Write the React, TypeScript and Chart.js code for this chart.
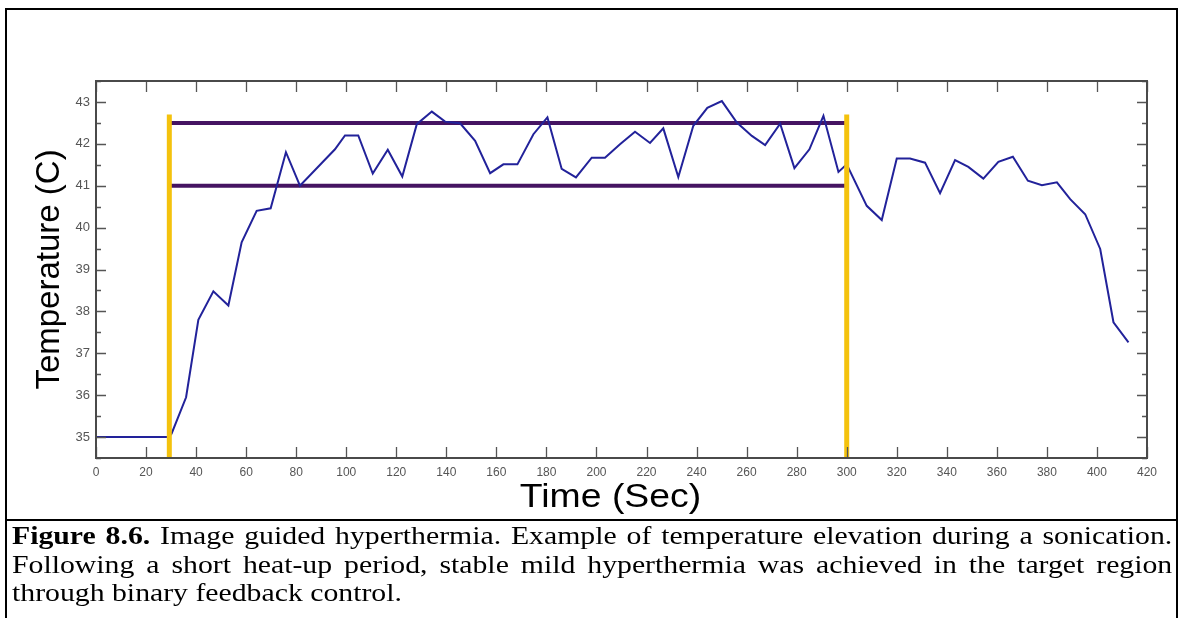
import React, { useEffect, useRef } from 'react';
import { Chart, registerables } from 'chart.js';

Chart.register(...registerables);

// ---- data ----
const timeSec = [
  0, 29, 30.2, 36, 40.9, 46.9, 52.9, 58.2, 64.2, 69.8, 75.9, 81.5, 95.5, 99.5,
  104.8, 110.6, 116.6, 122.4, 128.2, 134.2, 139.5, 145.5, 151.5, 157.5, 162.8,
  168.4, 174.8, 180.4, 186.1, 191.8, 198.1, 203.4, 209.4, 215.4, 221.4, 226.7,
  232.7, 238.7, 244.3, 250.1, 256.1, 262.1, 267.4, 273.4, 279.1, 285.1, 290.7,
  296.7, 300, 308, 314, 320, 325.3, 331.3, 337.3, 343.3, 348.6, 354.6, 360.6,
  366.4, 372.4, 378, 384, 389.3, 395.3, 401.3, 406.6, 412.6,
];
const tempC = [
  35, 35, 35.08, 35.95, 37.8, 38.48, 38.14, 39.65, 40.4, 40.46, 41.8, 41.0, 41.87, 42.2,
  42.2, 41.29, 41.86, 41.22, 42.47, 42.77, 42.53, 42.49, 42.07, 41.3, 41.51,
  41.51, 42.23, 42.63, 41.4, 41.2, 41.67, 41.67, 41.99, 42.29, 42.02, 42.37,
  41.21, 42.43, 42.86, 43.02, 42.51, 42.19, 41.97, 42.48, 41.42, 41.87, 42.67,
  41.33, 41.51, 40.52, 40.18, 41.65, 41.65, 41.55, 40.82, 41.61, 41.45, 41.17, 41.57,
  41.69, 41.12, 41.01, 41.08, 40.68, 40.32, 39.49, 37.74, 37.26,
];
const lowerLimit = 41;
const upperLimit = 42.5;
const heatingStart = 29.3;
const heatingEnd = 300;
const markerTop = 42.7;

const X_MIN = 0;
const X_MAX = 420;
const X_STEP = 20;
const Y_MIN = 34.5;
const Y_MAX = 43.5;
const Y_STEP = 0.5;

const xTitle = 'Time (Sec)';
const yTitle = 'Temperature (C)';

const captionBold = 'Figure 8.6.';
const captionLine1 = ' Image guided hyperthermia. Example of temperature elevation during a sonication.';
const captionLine2 = 'Following a short heat-up period, stable mild hyperthermia was achieved in the target region';
const captionLine3 = 'through binary feedback control.';

const isWhole = (v: number) => Math.abs(v - Math.round(v)) < 1e-6;

const frameTicks = {
  id: 'frameTicks',
  afterDatasetsDraw(chart: any) {
    const { ctx, chartArea: a, scales } = chart;
    const x = scales.x;
    const y = scales.y;
    ctx.save();
    ctx.strokeStyle = '#555';
    ctx.lineWidth = 1.3;
    x.ticks.forEach((t: any) => {
      const px = Math.round(x.getPixelForValue(t.value)) + 0.5;
      ctx.beginPath();
      ctx.moveTo(px, a.bottom);
      ctx.lineTo(px, a.bottom - 11);
      ctx.moveTo(px, a.top);
      ctx.lineTo(px, a.top + 11);
      ctx.stroke();
    });
    y.ticks.forEach((t: any) => {
      const py = Math.round(y.getPixelForValue(t.value)) + 0.5;
      const len = isWhole(t.value) ? 10 : 5;
      ctx.beginPath();
      ctx.moveTo(a.left, py);
      ctx.lineTo(a.left + len, py);
      ctx.moveTo(a.right, py);
      ctx.lineTo(a.right - len, py);
      ctx.stroke();
    });
    ctx.strokeStyle = '#4a4a4a';
    ctx.lineWidth = 2;
    ctx.strokeRect(a.left, a.top, a.right - a.left, a.bottom - a.top);
    ctx.restore();
  },
  afterDraw(chart: any) {
    // x-axis title, slightly widened like the reference figure
    const { ctx, chartArea: a } = chart;
    ctx.save();
    ctx.translate((a.left + a.right) / 2 - 11, a.bottom + 40);
    ctx.scale(1.1, 1);
    ctx.fillStyle = '#000';
    ctx.font = '34px "Liberation Sans", Arial, sans-serif';
    ctx.textAlign = 'center';
    ctx.textBaseline = 'middle';
    ctx.fillText(xTitle, 0, 0);
    ctx.restore();
  },
};

export default function App() {
  const ref = useRef<HTMLCanvasElement | null>(null);

  useEffect(() => {
    if (!ref.current) return;
    const line = (pts: { x: number; y: number }[], color: string, width: number, order: number) => ({
      data: pts,
      borderColor: color,
      backgroundColor: color,
      borderWidth: width,
      pointRadius: 0,
      fill: false,
      tension: 0,
      order,
      borderCapStyle: 'butt',
    });
    const chart = new Chart(ref.current, {
      type: 'line',
      data: {
        datasets: [
          line([{ x: heatingStart, y: Y_MIN }, { x: heatingStart, y: markerTop }], '#f4c20d', 5, 0),
          line([{ x: heatingEnd, y: Y_MIN }, { x: heatingEnd, y: markerTop }], '#f4c20d', 5, 0),
          line(timeSec.map((t, i) => ({ x: t, y: tempC[i] })), '#22229a', 2, 1),
          line([{ x: heatingStart, y: upperLimit }, { x: heatingEnd, y: upperLimit }], '#451462', 4, 2),
          line([{ x: heatingStart, y: lowerLimit }, { x: heatingEnd, y: lowerLimit }], '#451462', 4, 2),
        ] as any,
      },
      options: {
        animation: false,
        responsive: false,
        layout: { padding: { left: 0, top: 81, right: 36, bottom: 0 } },
        plugins: { legend: { display: false }, tooltip: { enabled: false } },
        scales: {
          x: {
            type: 'linear',
            min: X_MIN,
            max: X_MAX,
            grid: { display: false, drawTicks: false },
            border: { display: false },
            ticks: {
              stepSize: X_STEP,
              autoSkip: false,
              maxRotation: 0,
              padding: 7,
              color: '#555',
              font: { family: 'Liberation Sans', size: 12 },
            },
            title: { display: false, text: xTitle },
            afterFit: (s: any) => {
              s.height = 60;
            },
          },
          y: {
            type: 'linear',
            min: Y_MIN,
            max: Y_MAX,
            grid: { display: false, drawTicks: false },
            border: { display: false },
            ticks: {
              stepSize: Y_STEP,
              autoSkip: false,
              padding: 6,
              color: '#555',
              font: { family: 'Liberation Sans', size: 13 },
              callback: (v: any) => (isWhole(Number(v)) ? String(Math.round(Number(v))) : ''),
            },
            title: {
              display: true,
              text: yTitle,
              color: '#000',
              font: { family: 'Liberation Sans', size: 33, lineHeight: 1.2 },
              padding: { top: 30, bottom: 0 },
            },
            afterFit: (s: any) => {
              s.width = 96;
            },
          },
        },
      } as any,
      plugins: [frameTicks],
    });
    return () => chart.destroy();
  }, []);

  return (
    <div style={{ position: 'absolute', left: 0, top: 0, width: 1183, height: 618, background: '#fff', overflow: 'hidden' }}>
      <canvas ref={ref} width={1183} height={518} style={{ position: 'absolute', left: 0, top: 0, width: 1183, height: 518 }} />
      <div style={{ position: 'absolute', left: 5, top: 8, width: 1169, height: 640, border: '2px solid #000', pointerEvents: 'none' }} />
      <div style={{ position: 'absolute', left: 5, top: 519, width: 1173, height: 0, borderTop: '2px solid #000' }} />
      <div
        style={{
          position: 'absolute',
          left: 12,
          top: 522,
          width: 975,
          transform: 'scaleX(1.19)',
          transformOrigin: '0 0',
          fontFamily: '"Liberation Serif", "Times New Roman", serif',
          fontSize: 25,
          lineHeight: '28.5px',
          color: '#000',
        }}
      >
        <div style={{ textAlign: 'justify', textAlignLast: 'justify' } as any}>
          <b>{captionBold}</b>
          {captionLine1}
        </div>
        <div style={{ textAlign: 'justify', textAlignLast: 'justify' } as any}>{captionLine2}</div>
        <div>{captionLine3}</div>
      </div>
    </div>
  );
}
